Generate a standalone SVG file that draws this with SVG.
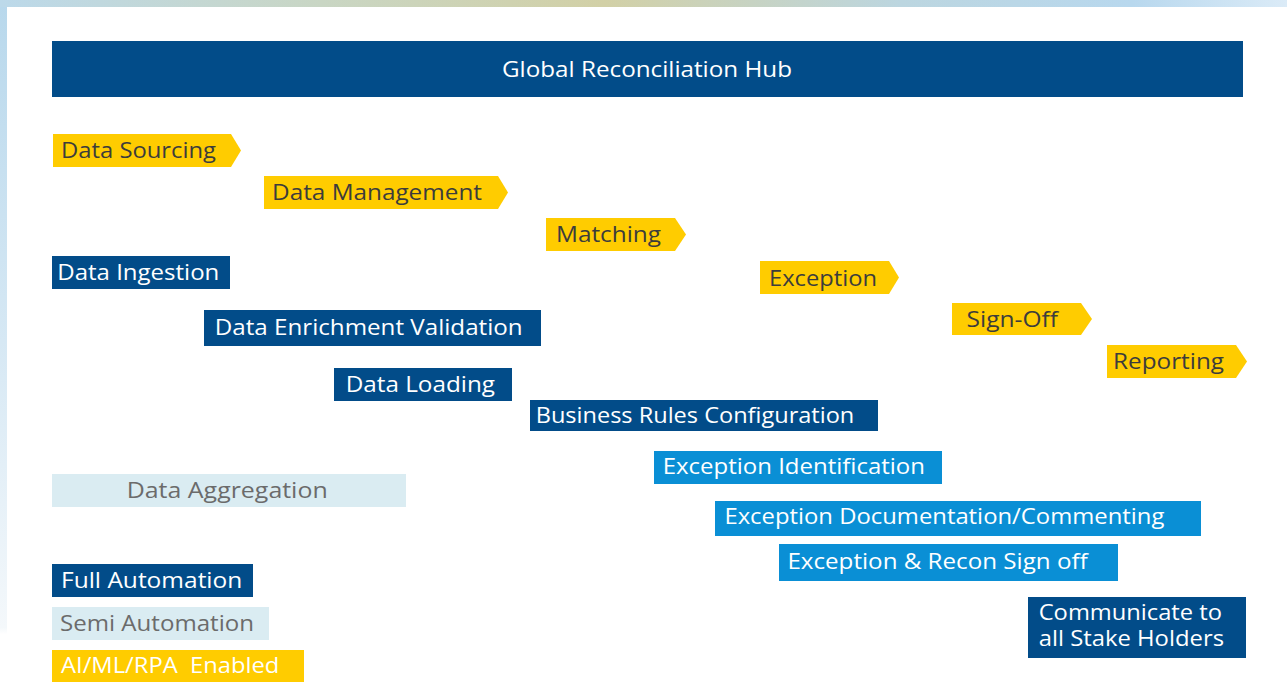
<svg xmlns="http://www.w3.org/2000/svg" width="1287" height="682" viewBox="0 0 1287 682">
  <defs>
    <linearGradient id="topBand" x1="0" y1="0" x2="1" y2="0">
      <stop offset="0" stop-color="#bcd9ea"/>
      <stop offset="0.25" stop-color="#c9d6c4"/>
      <stop offset="0.47" stop-color="#d2d0a6"/>
      <stop offset="0.7" stop-color="#bcd6e0"/>
      <stop offset="0.88" stop-color="#b8d8ee"/>
      <stop offset="1" stop-color="#dbebf7"/>
    </linearGradient>
    <linearGradient id="leftBand" x1="0" y1="0" x2="0" y2="1">
      <stop offset="0" stop-color="#b8d8ec"/>
      <stop offset="0.5" stop-color="#d6e8f4"/>
      <stop offset="0.92" stop-color="#f4f8fb"/>
      <stop offset="0.93" stop-color="#ffffff"/>
      <stop offset="1" stop-color="#ffffff"/>
    </linearGradient>
    <style>
      text { font-family: "Open Sans", "Noto Sans", "Liberation Sans", sans-serif; font-size: 21px; }
      .stage { fill: #ffcc00; }
      .stage-txt { fill: #3c3c3c; }
      .dark { fill: #024c89; }
      .mid { fill: #0a8fd5; }
      .pale { fill: #daecf2; }
      .light-txt { fill: #ffffff; }
      .pale-txt { fill: #6b6b6b; }
    </style>
  </defs>

  <!-- page background -->
  <rect x="0" y="0" width="1287" height="682" fill="#ffffff"/>
  <rect x="0" y="0" width="7" height="682" fill="url(#leftBand)"/>
  <rect x="0" y="0" width="1287" height="7" fill="url(#topBand)"/>

  <!-- title bar -->
  <g id="title">
    <rect class="dark" x="52" y="41" width="1191" height="56"/>
    <text class="light-txt" x="647" y="77" text-anchor="middle" font-size="22" textLength="290" lengthAdjust="spacingAndGlyphs">Global Reconciliation Hub</text>
  </g>

  <!-- process stages (chevron tags) -->
  <g id="stage-data-sourcing">
    <polygon class="stage" points="53,134 231,134 241,150.5 231,167 53,167"/>
    <text class="stage-txt" x="61" y="157.5" textLength="155" lengthAdjust="spacingAndGlyphs">Data Sourcing</text>
  </g>
  <g id="stage-data-management">
    <polygon class="stage" points="264,176 498,176 508,192.5 498,209 264,209"/>
    <text class="stage-txt" x="272" y="200" textLength="210" lengthAdjust="spacingAndGlyphs">Data Management</text>
  </g>
  <g id="stage-matching">
    <polygon class="stage" points="546,218 675,218 686,234.5 675,251 546,251"/>
    <text class="stage-txt" x="556" y="242.3" textLength="105" lengthAdjust="spacingAndGlyphs">Matching</text>
  </g>
  <g id="stage-exception">
    <polygon class="stage" points="760,261 889,261 899,277.5 889,294 760,294"/>
    <text class="stage-txt" x="769" y="286" textLength="108" lengthAdjust="spacingAndGlyphs">Exception</text>
  </g>
  <g id="stage-sign-off">
    <polygon class="stage" points="952,303 1081,303 1092,319 1081,335 952,335"/>
    <text class="stage-txt" x="966.5" y="327.3" textLength="91.5" lengthAdjust="spacingAndGlyphs">Sign-Off</text>
  </g>
  <g id="stage-reporting">
    <polygon class="stage" points="1107,345 1236,345 1247,361.5 1236,378 1107,378"/>
    <text class="stage-txt" x="1113" y="369" textLength="111" lengthAdjust="spacingAndGlyphs">Reporting</text>
  </g>

  <!-- fully automated steps -->
  <g id="data-ingestion">
    <rect class="dark" x="52" y="256" width="178" height="33"/>
    <text class="light-txt" x="57.3" y="280" textLength="162" lengthAdjust="spacingAndGlyphs">Data Ingestion</text>
  </g>
  <g id="data-enrichment-validation">
    <rect class="dark" x="204" y="310" width="337" height="36"/>
    <text class="light-txt" x="214.7" y="335" textLength="308" lengthAdjust="spacingAndGlyphs">Data Enrichment Validation</text>
  </g>
  <g id="data-loading">
    <rect class="dark" x="334" y="368" width="178" height="33"/>
    <text class="light-txt" x="345.7" y="391.7" textLength="149.3" lengthAdjust="spacingAndGlyphs">Data Loading</text>
  </g>
  <g id="business-rules-configuration">
    <rect class="dark" x="530" y="400" width="348" height="31"/>
    <text class="light-txt" x="535.7" y="422.7" textLength="318.6" lengthAdjust="spacingAndGlyphs">Business Rules Configuration</text>
  </g>

  <!-- AI/ML/RPA enabled steps -->
  <g id="exception-identification">
    <rect class="mid" x="654" y="451" width="288" height="33"/>
    <text class="light-txt" x="662.7" y="474.3" textLength="262.3" lengthAdjust="spacingAndGlyphs">Exception Identification</text>
  </g>
  <g id="exception-documentation">
    <rect class="mid" x="715" y="501" width="486" height="35"/>
    <text class="light-txt" x="724.4" y="524" textLength="440" lengthAdjust="spacingAndGlyphs">Exception Documentation/Commenting</text>
  </g>
  <g id="exception-recon-sign-off">
    <rect class="mid" x="779" y="544" width="339" height="37"/>
    <text class="light-txt" x="787.4" y="569.3" textLength="300.3" lengthAdjust="spacingAndGlyphs">Exception &amp; Recon Sign off</text>
  </g>

  <!-- closing step -->
  <g id="communicate-stakeholders">
    <rect class="dark" x="1028" y="597" width="218" height="61"/>
    <text class="light-txt" x="1038.7" y="620.3" textLength="183.3" lengthAdjust="spacingAndGlyphs">Communicate to</text>
    <text class="light-txt" x="1038.7" y="645.7" textLength="185.3" lengthAdjust="spacingAndGlyphs">all Stake Holders</text>
  </g>

  <!-- semi-automated step -->
  <g id="data-aggregation">
    <rect class="pale" x="52" y="474" width="354" height="33"/>
    <text class="pale-txt" x="126.7" y="498.3" textLength="201" lengthAdjust="spacingAndGlyphs">Data Aggregation</text>
  </g>

  <!-- legend -->
  <g id="legend-full-automation">
    <rect class="dark" x="52" y="564" width="201" height="33"/>
    <text class="light-txt" x="61" y="587.7" textLength="181.3" lengthAdjust="spacingAndGlyphs">Full Automation</text>
  </g>
  <g id="legend-semi-automation">
    <rect class="pale" x="52" y="607" width="217" height="33"/>
    <text class="pale-txt" x="60" y="630.7" textLength="194" lengthAdjust="spacingAndGlyphs">Semi Automation</text>
  </g>
  <g id="legend-ai-enabled">
    <rect class="stage" x="52" y="650" width="252" height="32"/>
    <text class="light-txt" x="61" y="673.3" textLength="218.3" lengthAdjust="spacingAndGlyphs" xml:space="preserve">AI/ML/RPA  Enabled</text>
  </g>

  <!-- no connectors between the tags -->
  <g id="connectors"/>
</svg>
